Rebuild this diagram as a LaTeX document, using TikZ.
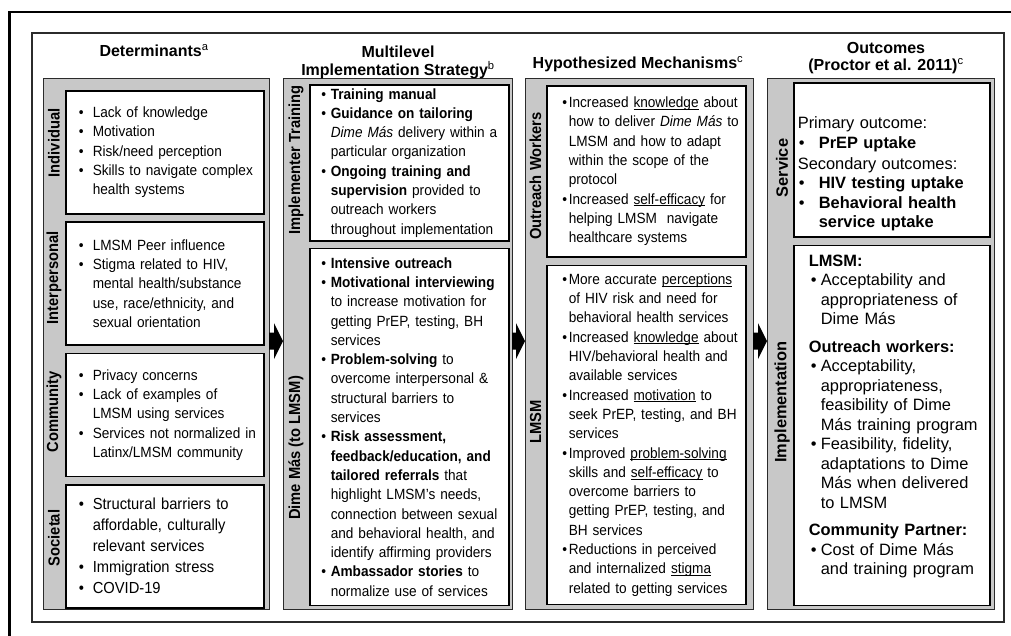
\documentclass[tikz,border=0pt]{standalone}
\usepackage{fontspec}
\setmainfont{Liberation Sans}
\newfontfamily\narrowsf[FakeStretch=0.92]{Liberation Sans}
\usepackage{tikz}
\usetikzlibrary{positioning, calc}

\definecolor{panelgray}{HTML}{C8C8C8}
\definecolor{framegray}{HTML}{2B2B2B}

\newlength\padw
\newlength\bulw
\newlength\hdw
\newcommand{\bul}{\hspace*{\padw}\makebox[\bulw][l]{\textbullet}}
\newcommand{\ind}{\hspace*{\dimexpr\padw+\bulw\relax}}
\newcommand{\hd}{\hspace*{\hdw}}
\newcommand{\ulw}[1]{\setbox0\hbox{#1}\rlap{\rule[-1.8pt]{\wd0}{0.6pt}}\box0\relax}

\begin{document}
\begin{tikzpicture}[x=1pt, y=-1pt,
  panel/.style={draw=framegray, line width=1.2pt, fill=panelgray, anchor=north west, minimum height=531pt, inner sep=0pt},
  wbox/.style={draw=black, line width=1.6pt, fill=white, inner xsep=0pt, inner ysep=2pt, align=left},
  detbox/.style={wbox, text width=198pt, minimum height=123pt, font=\narrowsf\fontsize{14.8}{19.3}\selectfont\setlength\padw{13pt}\setlength\bulw{14pt}},
  stratbox/.style={wbox, text width=199pt, font=\narrowsf\fontsize{14.8}{19.3}\selectfont\setlength\padw{11.5pt}\setlength\bulw{9.5pt}},
  mechbox/.style={wbox, text width=199pt, font=\narrowsf\fontsize{14.8}{19.3}\selectfont\setlength\padw{15.5pt}\setlength\bulw{6.5pt}},
  srvbox/.style={wbox, text width=196pt, font=\fontsize{16.4}{19.5}\selectfont\setlength\hdw{4pt}\setlength\padw{5pt}\setlength\bulw{20pt}},
  impbox/.style={wbox, text width=196pt, font=\fontsize{16.4}{19.5}\selectfont\setlength\hdw{15pt}\setlength\padw{17pt}\setlength\bulw{10pt}},
  strip/.style={rotate=90, inner sep=0pt, font=\narrowsf\bfseries\fontsize{16}{16}\selectfont},
  ttl/.style={align=center, inner sep=0pt, font=\bfseries\fontsize{16}{17.5}\selectfont}
]
  \useasboundingbox (0,0) rectangle (1011,636);
  \draw[line width=2.5pt] (9.5,636) -- (9.5,12) -- (1011,12);
  \draw[framegray, line width=1.5pt] (32,33) rectangle (1004,622);

  \node[panel, minimum width=226pt] (det) at (43,78) {};
  \node[panel, minimum width=229pt] (strat) at (283,78) {};
  \node[panel, minimum width=228pt] (mech) at (525,78) {};
  \node[panel, minimum width=227pt] (outc) at (767,78) {};

  \node[ttl] (tdet) at (154,50.5) {Determinants\textsuperscript{\mdseries a}};
  \node[ttl] (tstrat) at (398,62.5) {Multilevel\\Implementation Strategy\textsuperscript{\mdseries b}};
  \node[ttl] (tmech) at (638,64) {Hypothesized Mechanisms\textsuperscript{\mdseries c}};
  \node[ttl] (toutc) at (886,58) {Outcomes\\(Proctor et al. 2011)\textsuperscript{\mdseries c}};

  \node[detbox, anchor=north west] (ind) at (65,90) {%
    \bul Lack of knowledge\\
    \bul Motivation\\
    \bul Risk/need perception\\
    \bul Skills to navigate complex\\
    \ind health systems};
  \node[detbox, below=6.7pt of ind] (inter) {%
    \bul LMSM Peer influence\\
    \bul Stigma related to HIV,\\
    \ind mental health/substance\\
    \ind use, race/ethnicity, and\\
    \ind sexual orientation};
  \node[detbox, below=6.7pt of inter] (comm) {%
    \bul Privacy concerns\\
    \bul Lack of examples of\\
    \ind LMSM using services\\
    \bul Services not normalized in\\
    \ind Latinx/LMSM community};
  \node[detbox, below=6.7pt of comm, font=\narrowsf\fontsize{16}{21}\selectfont\setlength\padw{13pt}\setlength\bulw{14pt}] (soc) {%
    \bul Structural barriers to\\
    \ind affordable, culturally\\
    \ind relevant services\\
    \bul Immigration stress\\
    \bul COVID-19};

  \node[stratbox, anchor=north west, minimum height=156pt] (impl) at (309,84) {%
    \bul\textbf{Training manual}\\
    \bul\textbf{Guidance on tailoring}\\
    \ind\textit{Dime Más} delivery within a\\
    \ind particular organization\\
    \bul\textbf{Ongoing training and}\\
    \ind\textbf{supervision} provided to\\
    \ind outreach workers\\
    \ind throughout implementation};
  \node[stratbox, below=6pt of impl, minimum height=357pt] (dime) {%
    \bul\textbf{Intensive outreach}\\
    \bul\textbf{Motivational interviewing}\\
    \ind to increase motivation for\\
    \ind getting PrEP, testing, BH\\
    \ind services\\
    \bul\textbf{Problem-solving} to\\
    \ind overcome interpersonal \&\\
    \ind structural barriers to\\
    \ind services\\
    \bul\textbf{Risk assessment,}\\
    \ind\textbf{feedback/education, and}\\
    \ind\textbf{tailored referrals} that\\
    \ind highlight LMSM’s needs,\\
    \ind connection between sexual\\
    \ind and behavioral health, and\\
    \ind identify affirming providers\\
    \bul\textbf{Ambassador stories} to\\
    \ind normalize use of services};

  \node[mechbox, anchor=north west, minimum height=171pt] (ow) at (546,85) {%
    \bul Increased \ulw{knowledge} about\\
    \ind how to deliver \textit{Dime Más} to\\
    \ind LMSM and how to adapt\\
    \ind within the scope of the\\
    \ind protocol\\
    \bul Increased \ulw{self-efficacy} for\\
    \ind helping LMSM\ \ navigate\\
    \ind healthcare systems};
  \node[mechbox, below=7pt of ow, minimum height=339pt] (lmsm) {%
    \bul More accurate \ulw{perceptions}\\
    \ind of HIV risk and need for\\
    \ind behavioral health services\\
    \bul Increased \ulw{knowledge} about\\
    \ind HIV/behavioral health and\\
    \ind available services\\
    \bul Increased \ulw{motivation} to\\
    \ind seek PrEP, testing, and BH\\
    \ind services\\
    \bul Improved \ulw{problem-solving}\\
    \ind skills and \ulw{self-efficacy} to\\
    \ind overcome barriers to\\
    \ind getting PrEP, testing, and\\
    \ind BH services\\
    \bul Reductions in perceived\\
    \ind and internalized \ulw{stigma}\\
    \ind related to getting services};

  \node[srvbox, anchor=north west, minimum height=154pt] (serv) at (793,82) {%
    \hd\rule{0pt}{40pt}Primary outcome:\\
    \bul\textbf{PrEP uptake}\\[1.5pt]
    \hd Secondary outcomes:\\
    \bul\textbf{HIV testing uptake}\\
    \bul\textbf{Behavioral health}\\
    \ind\textbf{service uptake}};
  \node[impbox, below=7pt of serv, minimum height=360pt] (imp) {%
    \hd\textbf{LMSM:}\\
    \bul Acceptability and\\
    \ind appropriateness of\\
    \ind Dime Más\\[8pt]
    \hd\textbf{Outreach workers:}\\
    \bul Acceptability,\\
    \ind appropriateness,\\
    \ind feasibility of Dime\\
    \ind Más training program\\
    \bul Feasibility, fidelity,\\
    \ind adaptations to Dime\\
    \ind Más when delivered\\
    \ind to LMSM\\[8pt]
    \hd\textbf{Community Partner:}\\
    \bul Cost of Dime Más\\
    \ind and training program\rule[-21pt]{0pt}{0pt}};

  \node[strip] (lind) at (54,143) {Individual};
  \node[strip] (linter) at (54,278) {Interpersonal};
  \node[strip] (lcomm) at (54,412) {Community};
  \node[strip] (lsoc) at (54,538) {Societal};
  \node[strip] (limpl) at (296,160) {Implementer Training};
  \node[strip] (ldime) at (296,448) {Dime Más (to LMSM)};
  \node[strip] (low) at (535.5,176) {Outreach Workers};
  \node[strip] (llmsm) at (535.5,422) {LMSM};
  \node[strip, font=\bfseries\fontsize{16.4}{16.4}\selectfont] (lserv) at (782,168) {Service};
  \node[strip, font=\bfseries\fontsize{16.4}{16.4}\selectfont] (limp) at (782,402) {Implementation};

  \fill ($(det.east)+(-1,-11.5)$) -- ($(strat.west)+(-9,-11.5)$) -- ($(strat.west)+(-9,-21)$) -- ($(strat.west)+(0,-3)$) -- ($(strat.west)+(-9,15)$) -- ($(strat.west)+(-9,5.5)$) -- ($(det.east)+(-1,5.5)$) -- cycle;
  \fill ($(strat.east)+(-1,-11.5)$) -- ($(mech.west)+(-9,-11.5)$) -- ($(mech.west)+(-9,-21)$) -- ($(mech.west)+(0,-3)$) -- ($(mech.west)+(-9,15)$) -- ($(mech.west)+(-9,5.5)$) -- ($(strat.east)+(-1,5.5)$) -- cycle;
  \fill ($(mech.east)+(-1,-11.5)$) -- ($(outc.west)+(-9,-11.5)$) -- ($(outc.west)+(-9,-21)$) -- ($(outc.west)+(0,-3)$) -- ($(outc.west)+(-9,15)$) -- ($(outc.west)+(-9,5.5)$) -- ($(mech.east)+(-1,5.5)$) -- cycle;
\end{tikzpicture}
\end{document}
